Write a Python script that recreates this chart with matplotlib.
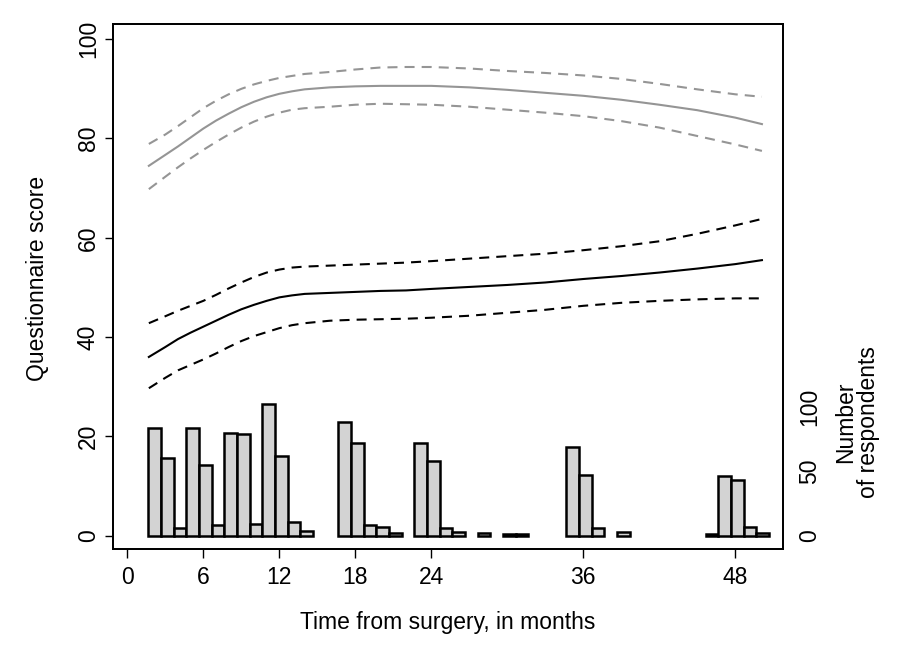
import numpy as np
import matplotlib
matplotlib.use("Agg")
import matplotlib.pyplot as plt

plt.rcParams['font.family'] = ['Liberation Sans', 'DejaVu Sans']

# fitted curves (months, score)
curve_months = [1.7, 3, 4, 5, 6, 7, 8, 9, 10, 11, 12, 13, 14, 16, 18, 20, 22, 24,
                27, 30, 33, 36, 39, 42, 45, 48, 50.1]
black_mid = [36.0, 38.0, 39.6, 40.9, 42.1, 43.3, 44.5, 45.6, 46.5, 47.3, 48.0, 48.4, 48.7,
             48.9, 49.1, 49.3, 49.4, 49.7, 50.1, 50.5, 51.0, 51.7, 52.3, 53.0, 53.8, 54.7, 55.5]
black_hi = [42.8, 44.2, 45.3, 46.3, 47.3, 48.5, 49.8, 51.0, 52.1, 53.0, 53.6, 54.0, 54.2,
            54.4, 54.6, 54.8, 55.0, 55.3, 55.8, 56.3, 56.8, 57.5, 58.3, 59.3, 60.8, 62.5, 63.8]
black_lo = [29.7, 31.8, 33.3, 34.4, 35.5, 36.7, 38.0, 39.2, 40.2, 41.0, 41.8, 42.4, 42.8,
            43.3, 43.5, 43.6, 43.7, 43.9, 44.3, 44.9, 45.5, 46.3, 46.9, 47.3, 47.6, 47.8, 47.8]
grey_mid = [74.5, 76.7, 78.4, 80.2, 82.0, 83.6, 85.0, 86.3, 87.4, 88.3, 89.0, 89.5, 89.9,
            90.3, 90.5, 90.6, 90.6, 90.6, 90.3, 89.8, 89.2, 88.6, 87.8, 86.8, 85.7, 84.2, 82.9]
grey_hi = [78.9, 80.8, 82.5, 84.3, 86.1, 87.6, 88.9, 90.0, 90.9, 91.6, 92.2, 92.6, 93.0,
           93.4, 93.9, 94.3, 94.4, 94.4, 94.1, 93.6, 93.2, 92.7, 92.0, 91.0, 89.9, 88.9, 88.4]
grey_lo = [69.8, 72.3, 74.2, 76.0, 77.7, 79.3, 80.8, 82.2, 83.4, 84.4, 85.2, 85.8, 86.1,
           86.4, 86.8, 87.0, 86.9, 86.8, 86.4, 85.8, 85.2, 84.5, 83.5, 82.2, 80.5, 78.8, 77.5]

# respondents per month
bar_months = [2, 3, 4, 5, 6, 7, 8, 9, 10, 11, 12, 13, 14,
              17, 18, 19, 20, 21, 23, 24, 25, 26, 28, 30, 31,
              35, 36, 37, 39, 46, 47, 48, 49, 50]
respondents = [84, 60, 6, 84, 55, 8, 80, 79, 9, 102, 62, 11, 4,
               88, 72, 8, 7, 2, 72, 58, 6, 3, 2, 1, 1,
               69, 47, 6, 3, 1, 46, 43, 7, 2]

x_ticks = [0, 6, 12, 18, 24, 36, 48]
y_ticks = [0, 20, 40, 60, 80, 100]
n_ticks = [0, 50, 100]

W, H = 911, 663
fig = plt.figure(figsize=(W / 100, H / 100), dpi=100)
ax = fig.add_axes([113 / W, 1 - 549 / H, (782.7 - 113) / W, (549 - 24.3) / H])
ax.set_xlim(-1.13, 51.74)
ylo, yhi = -2.68, 103.0
ax.set_ylim(ylo, yhi)

# bars on a second axis scaled in respondents
per_resp = 0.2593
ax2 = ax.twinx()
ax2.set_ylim(ylo / per_resp, yhi / per_resp)
ax2.bar(np.array(bar_months) - 0.35, respondents, width=1.0, align='edge',
        color='#d3d3d3', edgecolor='black', linewidth=1.8, zorder=2)

grey = '#959595'
dash = (4.8, 3.4)
ax2.set_zorder(1)
ax.set_zorder(2)
ax.patch.set_visible(False)
ax.plot(curve_months, grey_mid, color=grey, lw=1.5)
ax.plot(curve_months, grey_hi, color=grey, lw=1.5, dashes=dash)
ax.plot(curve_months, grey_lo, color=grey, lw=1.5, dashes=dash)
ax.plot(curve_months, black_mid, color='black', lw=1.5)
ax.plot(curve_months, black_hi, color='black', lw=1.5, dashes=dash)
ax.plot(curve_months, black_lo, color='black', lw=1.5, dashes=dash)

fs = 16.5
ax.set_xticks(x_ticks)
ax.set_xticklabels([str(t) for t in x_ticks], fontsize=fs)
ax.set_yticks(y_ticks)
ax.set_yticklabels([str(t) for t in y_ticks], fontsize=fs, rotation=90, va='center')
ax.tick_params(axis='x', direction='out', length=6.5, width=1, pad=6)
ax.tick_params(axis='y', direction='out', length=5.5, width=1, pad=4)

ax2.set_yticks(n_ticks)
ax2.set_yticklabels([str(t) for t in n_ticks], fontsize=fs, rotation=90, va='center')
ax2.tick_params(axis='y', length=0, pad=11)

for a in (ax, ax2):
    for s in a.spines.values():
        s.set_linewidth(1.3)

fig.text(448 / W, 1 - 622 / H, 'Time from surgery, in months', fontsize=fs,
         ha='center', va='center')
fig.text(38 / W, 1 - 278 / H, 'Questionnaire score', fontsize=fs,
         ha='center', va='center', rotation=90)
fig.text(857 / W, 1 - 422 / H, 'Number\nof respondents', fontsize=fs,
         ha='center', va='center', rotation=90, multialignment='center',
         linespacing=1.0)

fig.savefig('out.png', dpi=100)
